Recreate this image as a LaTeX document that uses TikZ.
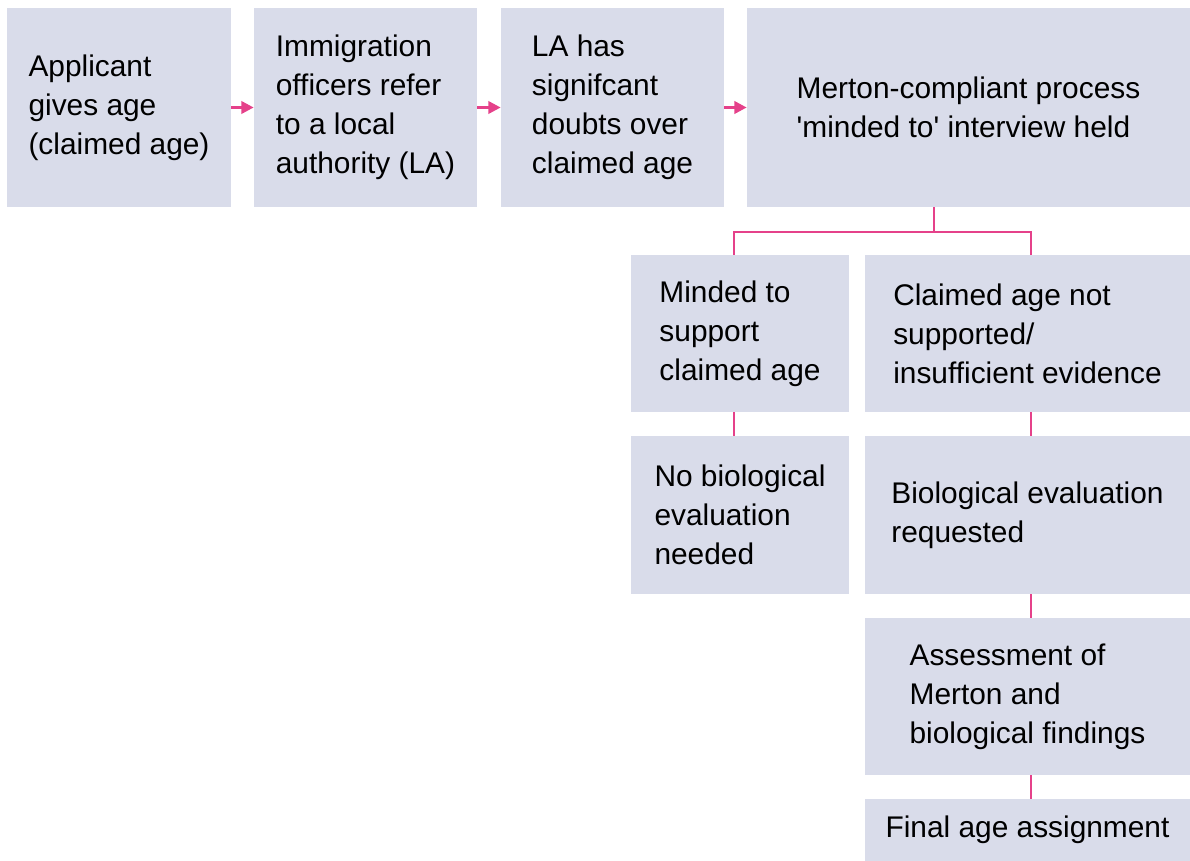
\documentclass[tikz,border=0pt]{standalone}
\usepackage{fontspec}
\setmainfont{Liberation Sans}
\usetikzlibrary{arrows.meta}
\definecolor{boxfill}{HTML}{D9DCEA}
\definecolor{linkpink}{HTML}{E5418A}

\begin{document}
\begin{tikzpicture}
  [x=0.02cm,y=-0.02cm,
   box_style/.style={fill=boxfill,align=left,inner sep=0pt,font=\fontsize{17}{22.2}\selectfont},
   edge_style/.style={draw=linkpink,line width=1.1pt},
   arrow_style/.style={edge_style,line width=1.6pt,-{Triangle[length=7pt,width=7pt]}}]
  \useasboundingbox (0,0) rectangle (1190,861);
  \node[box_style,minimum width=4.48cm,minimum height=3.98cm] (n1) at (119,107.5) {Applicant\\gives age\\(claimed age)};
  \node[box_style,minimum width=4.46cm,minimum height=3.98cm] (n2) at (365.5,107.5) {Immigration\\officers refer\\to a local\\authority (LA)};
  \node[box_style,minimum width=4.46cm,minimum height=3.98cm] (n3) at (612.5,107.5) {LA has\\signifcant\\doubts over\\claimed age};
  \node[box_style,minimum width=8.86cm,minimum height=3.98cm] (n4) at (968.5,107.5) {Merton-compliant process\\\textquotesingle minded to\textquotesingle{} interview held};
  \node[box_style,minimum width=4.36cm,minimum height=3.14cm] (n5) at (740,333.5) {Minded to\\support\\claimed age};
  \node[box_style,minimum width=6.5cm,minimum height=3.14cm] (n6) at (1027.5,333.5) {Claimed age not\\supported/\\insufficient evidence};
  \node[box_style,minimum width=4.36cm,minimum height=3.16cm] (n7) at (740,515) {No biological\\evaluation\\needed};
  \node[box_style,minimum width=6.5cm,minimum height=3.16cm] (n8) at (1027.5,515) {Biological evaluation\\requested};
  \node[box_style,minimum width=6.5cm,minimum height=3.14cm] (n9) at (1027.5,696.5) {Assessment of\\Merton and\\biological findings};
  \node[box_style,minimum width=6.5cm,minimum height=1.24cm] (n10) at (1027.5,830) {Final age assignment};
  \coordinate (split) at (934,232);
  \coordinate (fork_l) at (734,232);
  \coordinate (fork_r) at (1031,232);
  \draw[arrow_style] (n1) -- (n2);
  \draw[arrow_style] (n2) -- (n3);
  \draw[arrow_style] (n3) -- (n4);
  \draw[edge_style] (n4.south -| split) -- (split);
  \draw[edge_style] (fork_l |- n5.north) -- (fork_l) -- (fork_r) -- (fork_r |- n6.north);
  \draw[edge_style] (fork_l |- n5.south) -- (fork_l |- n7.north);
  \draw[edge_style] (fork_r |- n6.south) -- (fork_r |- n8.north);
  \draw[edge_style] (fork_r |- n8.south) -- (fork_r |- n9.north);
  \draw[edge_style] (fork_r |- n9.south) -- (fork_r |- n10.north);
\end{tikzpicture}
\end{document}
